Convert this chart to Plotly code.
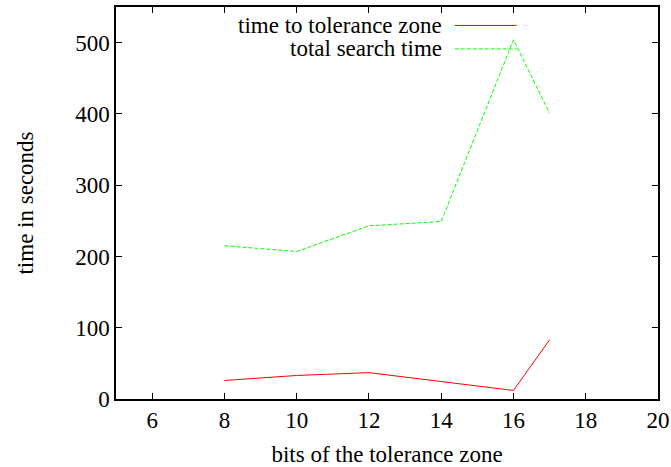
import plotly.graph_objects as go

bits = [8, 10, 12, 14, 16, 17]
time_to_zone = [26, 33, 37, 24, 12, 83]
total_search = [215, 207, 243, 249, 504, 401]
x_ticks = [6, 8, 10, 12, 14, 16, 18, 20]
y_ticks = [0, 100, 200, 300, 400, 500]
names = ["time to tolerance zone", "total search time"]
colors = ["#ff0000", "#00ff00"]
dashes = ["solid", "4px,2px"]

fig = go.Figure()
fig.add_trace(go.Scatter(x=bits, y=time_to_zone, mode="lines", name=names[0],
                         line=dict(color=colors[0], width=1, dash=dashes[0]), showlegend=False))
fig.add_trace(go.Scatter(x=bits, y=total_search, mode="lines", name=names[1],
                         line=dict(color=colors[1], width=1, dash=dashes[1]), showlegend=False))

font = dict(family="Liberation Serif, Times New Roman, serif", size=23, color="black")
axis_common = dict(showgrid=False, zeroline=False, showline=True, linecolor="black", linewidth=1.5,
                   mirror="ticks", ticks="inside", ticklen=6, tickcolor="black", tickwidth=1,
                   tickfont=font, automargin=False)
fig.update_layout(
    width=671, height=467,
    margin=dict(l=116, r=13, t=7, b=68),
    paper_bgcolor="white", plot_bgcolor="white",
    font=font,
    xaxis=dict(range=[5, 20], tickvals=x_ticks, title=dict(text="bits of the tolerance zone", font=font, standoff=17), **axis_common),
    yaxis=dict(range=[0, 550], tickvals=y_ticks, title=dict(text="time in seconds", font=font, standoff=35), **axis_common),
)

# legend drawn manually (gnuplot style: text right-aligned, sample to the right)
leg_y = [0.953, 0.893]
for i in range(2):
    fig.add_annotation(x=0.606, y=leg_y[i], xref="paper", yref="paper", text=names[i],
                       showarrow=False, xanchor="right", yanchor="middle", font=font)
    fig.add_shape(type="line", xref="paper", yref="paper", x0=0.625, x1=0.739, y0=leg_y[i], y1=leg_y[i],
                  line=dict(color=colors[i], width=1, dash=dashes[i]))

fig.write_html("out.html", config={"displayModeBar": False},
               post_script="document.body.style.margin='0';document.body.style.padding='0';")
